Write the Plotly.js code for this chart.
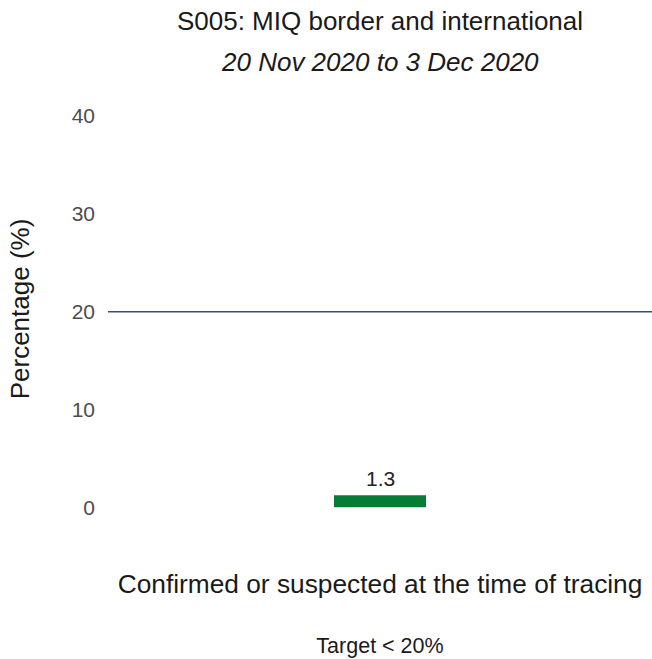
<!DOCTYPE html>
<html>
<head>
<meta charset="utf-8">
<script src="https://cdn.plot.ly/plotly-3.0.1.min.js"></script>
<style>html,body{margin:0;padding:0;background:#fff;}#chart{width:652px;height:659px;}</style>
</head>
<body>
<div id="chart"></div>
<script>
const categories = ["Confirmed or suspected at the time of tracing"];
const values = [1.3];
const valueLabels = ["1.3"];
const targetValue = 20;
const yTicks = [0, 10, 20, 30, 40];
const titleText = "S005: MIQ border and international";
const subtitleText = "20 Nov 2020 to 3 Dec 2020";
const targetText = "Target < 20%";

const FONT = "Liberation Sans, Arial, sans-serif";
const GREEN = "#067d35";

const data = [{
  type: "scatter",
  mode: "markers",
  x: categories,
  y: values,
  marker: {size: 1, opacity: 0},
  hoverinfo: "skip",
  showlegend: false
}];

// bar marks anchored at each category/value through the axes
const barShapes = categories.map((c, i) => ({
  type: "rect", xref: "x", yref: "y",
  xsizemode: "pixel", ysizemode: "pixel",
  xanchor: c, yanchor: values[i],
  x0: -46, x1: 46, y0: -12, y1: 0,
  fillcolor: GREEN, line: {width: 0}, layer: "above"
}));

const valueAnnotations = categories.map((c, i) => ({
  x: c, y: values[i], xref: "x", yref: "y", text: valueLabels[i],
  showarrow: false, yanchor: "middle", yshift: 17,
  font: {family: FONT, size: 21, color: "#222"}
}));

const layout = {
  width: 652, height: 659,
  margin: {l: 108, r: 0, t: 80, b: 121},
  paper_bgcolor: "#fff", plot_bgcolor: "#fff",
  font: {family: FONT},
  title: {text: titleText, x: 0.5, xref: "paper", xanchor: "center",
          y: 0.968, yref: "container", yanchor: "middle",
          font: {family: FONT, size: 26, color: "#1a1a1a"}},
  showlegend: false,
  xaxis: {
    type: "category",
    showgrid: false, zeroline: false, showline: false, ticks: "",
    tickfont: {family: FONT, size: 26.3, color: "#1a1a1a"},
    ticklabelstandoff: 28,
    title: {text: targetText, standoff: 39, font: {family: FONT, size: 21.5, color: "#1a1a1a"}}
  },
  yaxis: {
    range: [-3.06, 43.62],
    tickvals: yTicks, ticktext: yTicks.map(String),
    showgrid: false, zeroline: false, showline: false, ticks: "",
    tickfont: {family: FONT, size: 21, color: "#4d4d4d"},
    ticklabelstandoff: 12,
    title: {text: "Percentage (%)", standoff: 34, font: {family: FONT, size: 26, color: "#1a1a1a"}}
  },
  shapes: [{
    type: "line", xref: "paper", yref: "y", x0: 0, x1: 1, y0: targetValue, y1: targetValue,
    line: {color: "#3f4a7e", width: 1.5}
  }].concat(barShapes),
  annotations: valueAnnotations.concat([{
    xref: "paper", yref: "paper", x: 0.5, y: 1, yanchor: "middle", yshift: 18,
    text: "<i>" + subtitleText + "</i>", showarrow: false,
    font: {family: FONT, size: 26, color: "#1a1a1a"}
  }])
};

Plotly.newPlot("chart", data, layout, {displayModeBar: false, staticPlot: true});
</script>
</body>
</html>
